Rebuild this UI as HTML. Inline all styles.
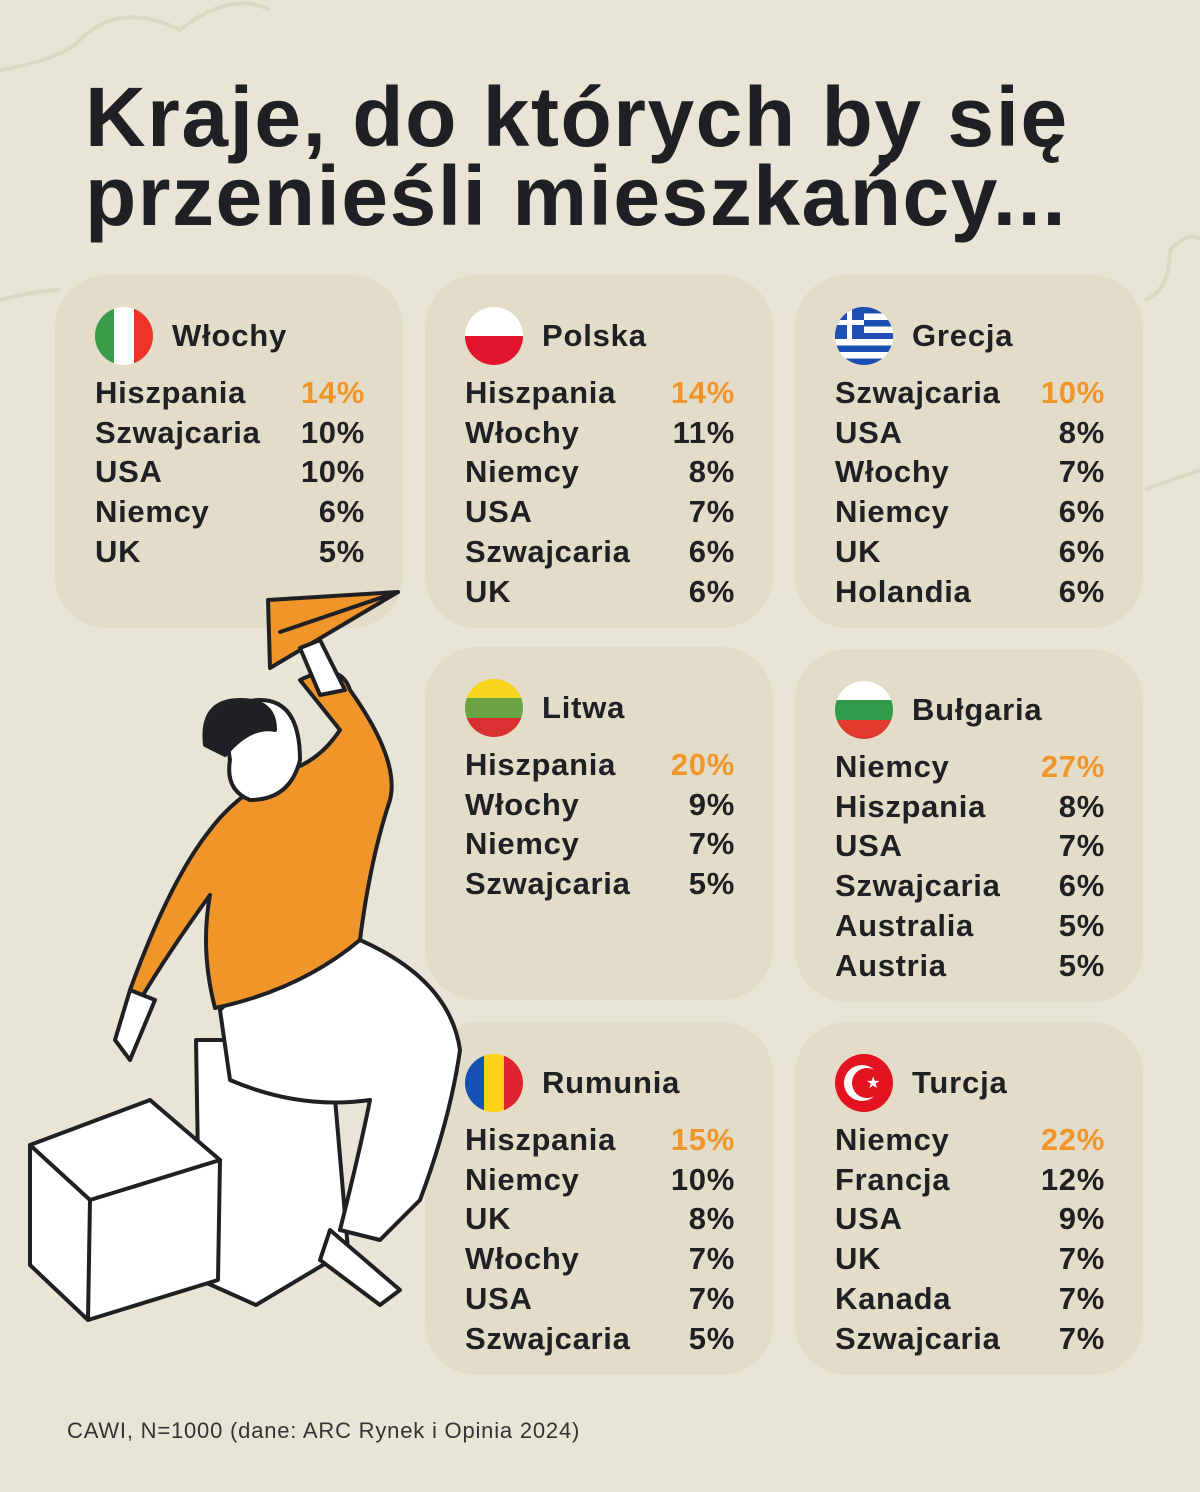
<!DOCTYPE html>
<html><head><meta charset="utf-8"><style>
body{margin:0;width:1200px;height:1492px;background:#e9e5d6;position:relative;overflow:hidden;font-family:"Liberation Sans",sans-serif;color:#1f2023}
h1{position:absolute;left:85px;top:78px;margin:0;font-size:84px;line-height:79px;font-weight:700;letter-spacing:1.5px}
.card{position:absolute;width:348px;height:353px;background:#e2dcc8;border-radius:52px}
.flag{position:absolute;left:40px;top:32px;width:58px;height:58px;border-radius:50%;overflow:hidden}
.name{position:absolute;left:117px;top:43px;font-size:31px;font-weight:700;line-height:36px;letter-spacing:0.8px}
.rows{position:absolute;left:40px;top:98px;width:270px}
.r{display:flex;justify-content:space-between;font-size:31px;line-height:39.7px;font-weight:700;letter-spacing:0.7px}
.o{color:#f0952a}
.foot{position:absolute;left:67px;top:1418px;font-size:22px;color:#333;letter-spacing:0.8px}
</style></head><body>
<svg width="1200" height="1492" style="position:absolute;left:0;top:0" fill="none" stroke="#ddd8c6" stroke-width="4">
<path d="M0 70 Q60 60 80 40 Q120 0 180 30 Q230 -10 270 10"/>
<path d="M0 300 Q40 290 60 290"/>
<path d="M1145 300 Q1170 290 1170 250 Q1190 230 1200 240"/>
<path d="M1145 490 Q1170 480 1200 470"/>
</svg>
<h1>Kraje, do których by się<br>przenieśli mieszkańcy...</h1>

<div class="card" style="left:55px;top:275px"><div class="flag" style="background:linear-gradient(90deg,#3a9b4a 33%,#fff 33% 67%,#ee3328 67%)"></div><div class="name">Włochy</div>
<div class="rows"><div class="r"><span>Hiszpania</span><span class="o">14%</span></div><div class="r"><span>Szwajcaria</span><span>10%</span></div><div class="r"><span>USA</span><span>10%</span></div><div class="r"><span>Niemcy</span><span>6%</span></div><div class="r"><span>UK</span><span>5%</span></div></div></div>

<div class="card" style="left:425px;top:275px"><div class="flag" style="background:linear-gradient(#fff 50%,#e3142d 50%)"></div><div class="name">Polska</div>
<div class="rows"><div class="r"><span>Hiszpania</span><span class="o">14%</span></div><div class="r"><span>Włochy</span><span>11%</span></div><div class="r"><span>Niemcy</span><span>8%</span></div><div class="r"><span>USA</span><span>7%</span></div><div class="r"><span>Szwajcaria</span><span>6%</span></div><div class="r"><span>UK</span><span>6%</span></div></div></div>

<div class="card" style="left:795px;top:275px"><div class="flag" style="background:repeating-linear-gradient(#1e4fb4 0 6.4px,#fff 6.4px 12.9px)"><div style="position:absolute;left:0;top:0;width:29px;height:32px;background:#1e4fb4"></div><div style="position:absolute;left:12px;top:0;width:5px;height:32px;background:#fff"></div><div style="position:absolute;left:0;top:13px;width:29px;height:5px;background:#fff"></div></div><div class="name">Grecja</div>
<div class="rows"><div class="r"><span>Szwajcaria</span><span class="o">10%</span></div><div class="r"><span>USA</span><span>8%</span></div><div class="r"><span>Włochy</span><span>7%</span></div><div class="r"><span>Niemcy</span><span>6%</span></div><div class="r"><span>UK</span><span>6%</span></div><div class="r"><span>Holandia</span><span>6%</span></div></div></div>

<div class="card" style="left:425px;top:647px"><div class="flag" style="background:linear-gradient(#f7d51c 33%,#6aa343 33% 67%,#d93131 67%)"></div><div class="name">Litwa</div>
<div class="rows"><div class="r"><span>Hiszpania</span><span class="o">20%</span></div><div class="r"><span>Włochy</span><span>9%</span></div><div class="r"><span>Niemcy</span><span>7%</span></div><div class="r"><span>Szwajcaria</span><span>5%</span></div></div></div>

<div class="card" style="left:795px;top:649px"><div class="flag" style="background:linear-gradient(#fff 33%,#2e9a4a 33% 67%,#e03a2e 67%)"></div><div class="name">Bułgaria</div>
<div class="rows"><div class="r"><span>Niemcy</span><span class="o">27%</span></div><div class="r"><span>Hiszpania</span><span>8%</span></div><div class="r"><span>USA</span><span>7%</span></div><div class="r"><span>Szwajcaria</span><span>6%</span></div><div class="r"><span>Australia</span><span>5%</span></div><div class="r"><span>Austria</span><span>5%</span></div></div></div>

<div class="card" style="left:425px;top:1022px"><div class="flag" style="background:linear-gradient(90deg,#1550b5 33%,#fcd116 33% 67%,#e0242f 67%)"></div><div class="name">Rumunia</div>
<div class="rows"><div class="r"><span>Hiszpania</span><span class="o">15%</span></div><div class="r"><span>Niemcy</span><span>10%</span></div><div class="r"><span>UK</span><span>8%</span></div><div class="r"><span>Włochy</span><span>7%</span></div><div class="r"><span>USA</span><span>7%</span></div><div class="r"><span>Szwajcaria</span><span>5%</span></div></div></div>

<div class="card" style="left:795px;top:1022px"><div class="flag" style="background:#e3141f"><div style="position:absolute;left:9px;top:11px;width:36px;height:36px;border-radius:50%;background:#fff"></div><div style="position:absolute;left:17px;top:14px;width:30px;height:30px;border-radius:50%;background:#e3141f"></div><div style="position:absolute;left:31px;top:19px;color:#fff;font-size:16px">★</div></div><div class="name">Turcja</div>
<div class="rows"><div class="r"><span>Niemcy</span><span class="o">22%</span></div><div class="r"><span>Francja</span><span>12%</span></div><div class="r"><span>USA</span><span>9%</span></div><div class="r"><span>UK</span><span>7%</span></div><div class="r"><span>Kanada</span><span>7%</span></div><div class="r"><span>Szwajcaria</span><span>7%</span></div></div></div>

<svg width="1200" height="1492" style="position:absolute;left:0;top:0" stroke="#1f2023" stroke-width="4" stroke-linejoin="round" stroke-linecap="round">
<polygon points="268,600 398,592 270,668" fill="#f0952a"/>
<polyline points="398,592 280,632" fill="none"/>
<path d="M196,1040 L330,1040 L348,1250 L256,1305 L200,1280 Z" fill="#fff"/>
<path d="M30,1145 L150,1100 L220,1160 L218,1280 L88,1320 L30,1265 Z" fill="#fff"/>
<path d="M30,1145 L90,1200 L220,1160 M90,1200 L88,1320" fill="none"/>
<path d="M220,1010 Q300,930 360,940 Q450,980 460,1050 Q450,1120 420,1200 L380,1240 L340,1230 Q360,1150 370,1100 Q300,1110 230,1080 Z" fill="#fff"/>
<path d="M330,1230 L400,1290 L380,1305 L320,1260 Z" fill="#fff"/>
<path d="M300,680 Q340,660 350,690 Q400,760 390,800 Q370,860 360,940 Q300,990 215,1008 Q200,950 210,895 Q170,950 140,1000 L130,990 Q170,880 210,830 Q240,790 290,770 Q320,760 340,730 Z" fill="#f0952a"/>
<path d="M130,990 L115,1040 L130,1060 L155,1000 Z" fill="#fff"/>
<path d="M300,648 L320,640 L345,690 L320,695 Z" fill="#fff"/>
<path d="M230,760 Q220,700 260,700 Q300,700 300,760 Q290,800 250,800 Q225,790 230,760 Z" fill="#fff"/>
<path d="M205,745 Q200,700 240,700 Q275,700 275,730 Q250,725 225,755 Z" fill="#1f2023"/>
</svg>
<div class="foot">CAWI, N=1000 (dane: ARC Rynek i Opinia 2024)</div>
</body></html>
